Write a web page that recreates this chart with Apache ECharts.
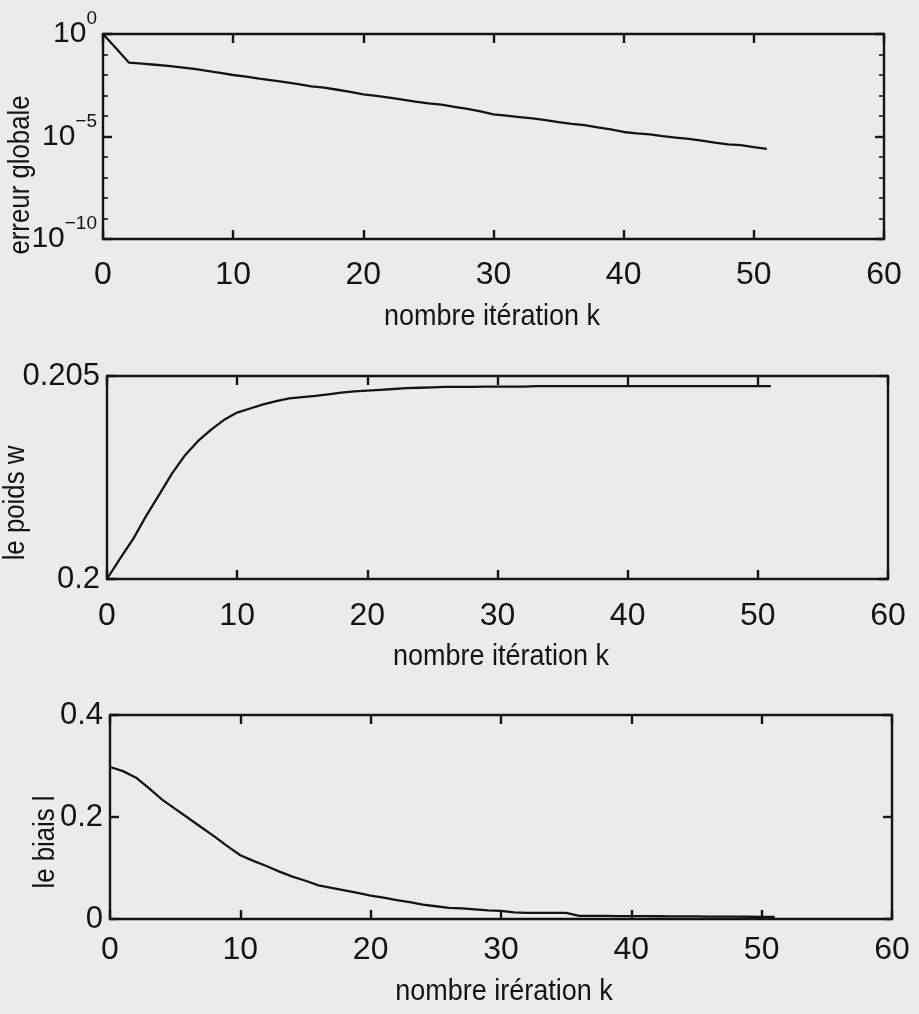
<!DOCTYPE html>
<html>
<head>
<meta charset="utf-8">
<title>erreur globale, poids et biais</title>
<script src="https://cdn.jsdelivr.net/npm/echarts@6/dist/echarts.min.js"></script>
<style>
  html, body { margin: 0; padding: 0; background: #ebebea; }
  #chart { width: 919px; height: 1014px; }
</style>
</head>
<body>
<div id="chart"></div>
<script>
// iteration index k
const iterK = [0, 1, 2, 3, 4, 5, 6, 7, 8, 9, 10, 11, 12, 13, 14, 15, 16, 17, 18, 19, 20,
  21, 22, 23, 24, 25, 26, 27, 28, 29, 30, 31, 32, 33, 34, 35, 36, 37, 38, 39, 40,
  41, 42, 43, 44, 45, 46, 47, 48, 49, 50, 51]

// erreur globale, read as log10 (the axis is logarithmic)
const errLog10 = [0, -0.7, -1.4, -1.45, -1.5, -1.56, -1.63, -1.7, -1.8, -1.9, -2.0,
  -2.08, -2.18, -2.26, -2.35, -2.45, -2.55, -2.62, -2.72, -2.82, -2.95,
  -3.02, -3.1, -3.2, -3.3, -3.38, -3.45, -3.55, -3.65, -3.78, -3.92,
  -3.98, -4.05, -4.12, -4.2, -4.3, -4.38, -4.45, -4.55, -4.65, -4.78,
  -4.85, -4.9, -4.98, -5.05, -5.12, -5.2, -5.3, -5.38, -5.42, -5.52, -5.6]

// le poids w
const poidsW = [0.2, 0.2005, 0.20098, 0.20155, 0.20207, 0.2026, 0.20305, 0.2034, 0.20368, 0.20392, 0.2041,
  0.2042, 0.2043, 0.20438, 0.20445, 0.20448, 0.20451, 0.20455, 0.20459, 0.20462, 0.20464,
  0.20466, 0.20468, 0.2047, 0.20471, 0.20472, 0.20473, 0.20473, 0.20473, 0.20474, 0.20474,
  0.20474, 0.20474, 0.20475, 0.20475, 0.20475, 0.20475, 0.20475, 0.20475, 0.20475, 0.20475,
  0.20475, 0.20475, 0.20475, 0.20475, 0.20475, 0.20475, 0.20475, 0.20475, 0.20475, 0.20475, 0.20475]

// le biais l
const biaisL = [0.298, 0.29, 0.277, 0.256, 0.234, 0.216, 0.198, 0.18, 0.162, 0.143, 0.125,
  0.114, 0.104, 0.093, 0.083, 0.075, 0.066, 0.061, 0.056, 0.051, 0.046,
  0.042, 0.037, 0.033, 0.028, 0.025, 0.022, 0.021, 0.019, 0.017, 0.016,
  0.013, 0.012, 0.012, 0.012, 0.012, 0.006, 0.006, 0.006, 0.0058, 0.0056,
  0.0055, 0.0054, 0.0053, 0.0052, 0.005, 0.0048, 0.0046, 0.0045, 0.0044, 0.0042, 0.004]

const xTitles = ['nombre itération k', 'nombre itération k', 'nombre irération k']
const yTitles = ['erreur globale', 'le poids w', 'le biais l']

const FONT = '"Liberation Sans", Arial, sans-serif'
const INK = '#141414'

const grids = [
  { left: 103, top: 34, width: 781, height: 205 },
  { left: 107, top: 376, width: 781, height: 203 },
  { left: 110, top: 715, width: 782, height: 204 },
]

const yRanges = [
  { min: -10, max: 0, interval: 5 },
  { min: 0.2, max: 0.205, interval: 0.005 },
  { min: 0, max: 0.4, interval: 0.2 },
]

const boxStyle = { color: INK, width: 2.4 }
const tick = { show: true, inside: true, length: 9, lineStyle: boxStyle }

function expLabel(v) {
  const e = v === 0 ? '0' : '\u2212' + Math.abs(v)
  return '{b|10}{s|' + e + '}'
}

const xAxis = []
const yAxis = []
grids.forEach((g, i) => {
  const base = { gridIndex: i, type: 'value', min: 0, max: 60, interval: 10, splitLine: { show: false } }
  xAxis.push({
    ...base, position: 'bottom',
    axisLine: { show: true, onZero: false, lineStyle: boxStyle },
    axisTick: tick,
    axisLabel: { margin: [20, 21, 15][i], fontSize: 32, fontFamily: FONT, color: INK },
  })
  xAxis.push({
    ...base, position: 'top',
    axisLine: { show: true, onZero: false, lineStyle: boxStyle },
    axisTick: tick, axisLabel: { show: false },
  })

  const r = yRanges[i]
  const ybase = { gridIndex: i, type: 'value', min: r.min, max: r.max, interval: r.interval, splitLine: { show: false } }
  const minor = i === 0 ? { show: true, splitNumber: 5, length: 5, lineStyle: { color: INK, width: 1.6 } } : { show: false }
  yAxis.push({
    ...ybase, position: 'left',
    axisLine: { show: true, onZero: false, lineStyle: boxStyle },
    axisTick: tick, minorTick: minor,
    axisLabel: i === 0
      ? {
          margin: 6, formatter: expLabel,
          rich: {
            b: { fontSize: 30, fontFamily: FONT, color: INK },
            s: { fontSize: 19, fontFamily: FONT, color: INK, padding: [0, 0, 30, 0] },
          },
        }
      : { margin: 7, fontSize: 31, fontFamily: FONT, color: INK, formatter: v => String(+v.toFixed(3)) },
  })
  yAxis.push({
    ...ybase, position: 'right',
    axisLine: { show: true, onZero: false, lineStyle: boxStyle },
    axisTick: tick, minorTick: minor, axisLabel: { show: false },
  })
})

const seriesData = [errLog10, poidsW, biaisL]
const series = seriesData.map((vals, i) => ({
  type: 'line', xAxisIndex: i * 2, yAxisIndex: i * 2,
  showSymbol: false, silent: true, animation: false,
  lineStyle: { color: INK, width: 2.3 },
  data: iterK.map((k, j) => [k, vals[j]]),
}))

// axis titles: the reference font is condensed, so squeeze the text along its run
const xTitlePos = [[492, 317], [501, 657], [504, 992]]
const yTitlePos = [[21, 175], [16, 503], [46, 842]]
const graphic = [
  ...xTitles.map((t, i) => ({
    type: 'text', x: xTitlePos[i][0], y: xTitlePos[i][1], scaleX: 0.9,
    style: { text: t, fontSize: 30, fontFamily: FONT, fill: INK, align: 'center', verticalAlign: 'middle' },
  })),
  ...yTitles.map((t, i) => ({
    type: 'text', x: yTitlePos[i][0], y: yTitlePos[i][1], rotation: Math.PI / 2, scaleX: 0.86,
    style: { text: t, fontSize: 30, fontFamily: FONT, fill: INK, align: 'center', verticalAlign: 'middle' },
  })),
]

const chart = echarts.init(document.getElementById('chart'))
chart.setOption({
  backgroundColor: '#ebebea',
  animation: false,
  grid: grids,
  xAxis, yAxis, series, graphic,
})
</script>
</body>
</html>
